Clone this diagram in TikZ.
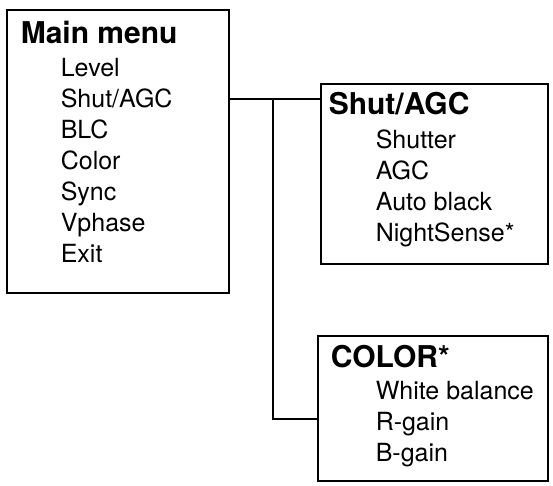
\documentclass[tikz,border=0pt]{standalone}
\usepackage{fontspec}
\setmainfont{TeX Gyre Heros}
\begin{document}
\begin{tikzpicture}[x=1pt, y=-1pt, line width=1.6pt,
  menu box/.style={rectangle,draw,inner sep=0pt},
  menu title/.style={anchor=base west,inner sep=0pt,font=\bfseries\fontsize{30}{31}\selectfont},
  menu item/.style={anchor=base west,inner sep=0pt,font=\fontsize{25}{31}\selectfont}]
\useasboundingbox (0,0) rectangle (553,485);
% boxes
\node [menu box,minimum width=222pt,minimum height=283pt](main) at (118,151.5) {};
\node [menu box,minimum width=227pt,minimum height=180pt](shut) at (434.5,174) {};
\node [menu box,minimum width=230pt,minimum height=145pt](color) at (433,408.5) {};
% titles and entries
\node [menu title](main title) at (20,43) {Main menu};
\foreach \name [count=\i] in {Level,Shut/AGC,BLC,Color,Sync,Vphase,Exit}
  \node [menu item](main item \i) at (60,{45+31*\i}) {\name};
\node [menu title](shut title) at (328,114) {Shut/AGC};
\foreach \name [count=\i] in {Shutter,AGC,Auto black,NightSense*}
  \node [menu item](shut item \i) at (375,{117+31*\i}) {\name};
\node [menu title](color title) at (330,367) {COLOR*};
\foreach \name [count=\i] in {White balance,R-gain,B-gain}
  \node [menu item](color item \i) at (375,{368+31*\i}) {\name};
% connectors
\coordinate (split) at (273,99);
\coordinate (low) at (273,419);
\draw (main.east |- split) -- (shut.west |- split);
\draw (split) -- (low) -- (color.west |- low);
\end{tikzpicture}
\end{document}
